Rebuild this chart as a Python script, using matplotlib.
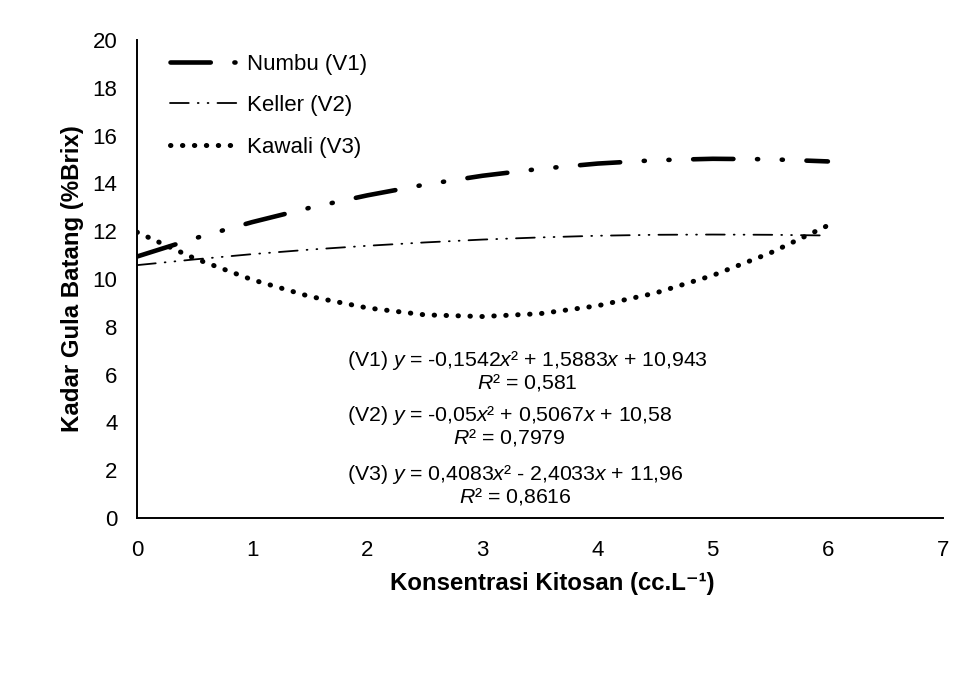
import matplotlib
matplotlib.use('Agg')
from matplotlib import pyplot as plt

plt.rcParams['font.family'] = ['Liberation Sans', 'DejaVu Sans']
plt.rcParams['mathtext.fontset'] = 'custom'
plt.rcParams['mathtext.it'] = 'Liberation Sans:italic'
plt.rcParams['mathtext.rm'] = 'Liberation Sans'
plt.rcParams['lines.scale_dashes'] = False

# values at 0.5 steps of concentration
konsentrasi = [0, 0.5, 1, 1.5, 2, 2.5, 3, 3.5, 4, 4.5, 5, 5.5, 6]
numbu = [10.94, 11.70, 12.38, 12.98, 13.50, 13.95, 14.32, 14.61, 14.83, 14.97, 15.03, 15.01, 14.92]
keller = [10.58, 10.82, 11.04, 11.23, 11.39, 11.53, 11.65, 11.74, 11.81, 11.85, 11.86, 11.85, 11.82]
kawali = [11.96, 10.86, 9.97, 9.27, 8.79, 8.50, 8.43, 8.55, 8.88, 9.41, 10.15, 11.09, 12.24]

labels = ['Numbu (V1)', 'Keller (V2)', 'Kawali (V3)']
equations = [
    '(V1) $y$ = -0,1542$x$² + 1,5883$x$ + 10,943\n$R$² = 0,581',
    '(V2) $y$ = -0,05$x$² + 0,5067$x$ + 10,58\n$R$² = 0,7979',
    '(V3) $y$ = 0,4083$x$² - 2,4033$x$ + 11,96\n$R$² = 0,8616',
]

fig = plt.figure(figsize=(9.74, 6.84), dpi=100)
ax = fig.add_axes([0.1407, 0.2427, 0.8275, 0.6988])

ax.plot(konsentrasi, numbu, color='black', lw=3.3, dashes=(29, 17, 0.8, 17, 0.8, 17),
        dash_capstyle='round', label=labels[0])
ax.plot(konsentrasi, keller, color='black', lw=1.3, dashes=(13.5, 6.5, 0.6, 6.5, 0.6, 6.5),
        dash_capstyle='round', label=labels[1])
ax.plot(konsentrasi, kawali, color='black', lw=3.6, dashes=(0.3, 8.3),
        dash_capstyle='round', label=labels[2])

ax.set_xlim(0, 7)
ax.set_ylim(0, 20)
ax.set_xticks(range(0, 8))
ax.set_yticks(range(0, 21, 2))
ax.tick_params(length=0, labelsize=16)
ax.tick_params(axis='x', pad=16)
ax.tick_params(axis='y', pad=14)
for s in ['top', 'right']:
    ax.spines[s].set_visible(False)
for s in ['left', 'bottom']:
    ax.spines[s].set_linewidth(1.4)

ax.set_xlabel('Konsentrasi Kitosan (cc.L⁻¹)', fontsize=17.3, fontweight='bold')
ax.xaxis.set_label_coords(0.515, -0.113)
ax.set_ylabel('Kadar Gula Batang (%Brix)', fontsize=17.3, fontweight='bold', labelpad=6)

leg = ax.legend(loc='upper left', bbox_to_anchor=(0.03, 0.99), borderaxespad=0, frameon=False,
                fontsize=16, handlelength=3.2, handletextpad=0.27, labelspacing=0.92)

ys = [6.13, 3.83, 1.40]
for eq, y in zip(equations, ys):
    ax.text(1.82, y, eq, ha='left', va='center', multialignment='center',
            fontsize=15.3, linespacing=1.0)

fig.savefig('out.png', dpi=100)
